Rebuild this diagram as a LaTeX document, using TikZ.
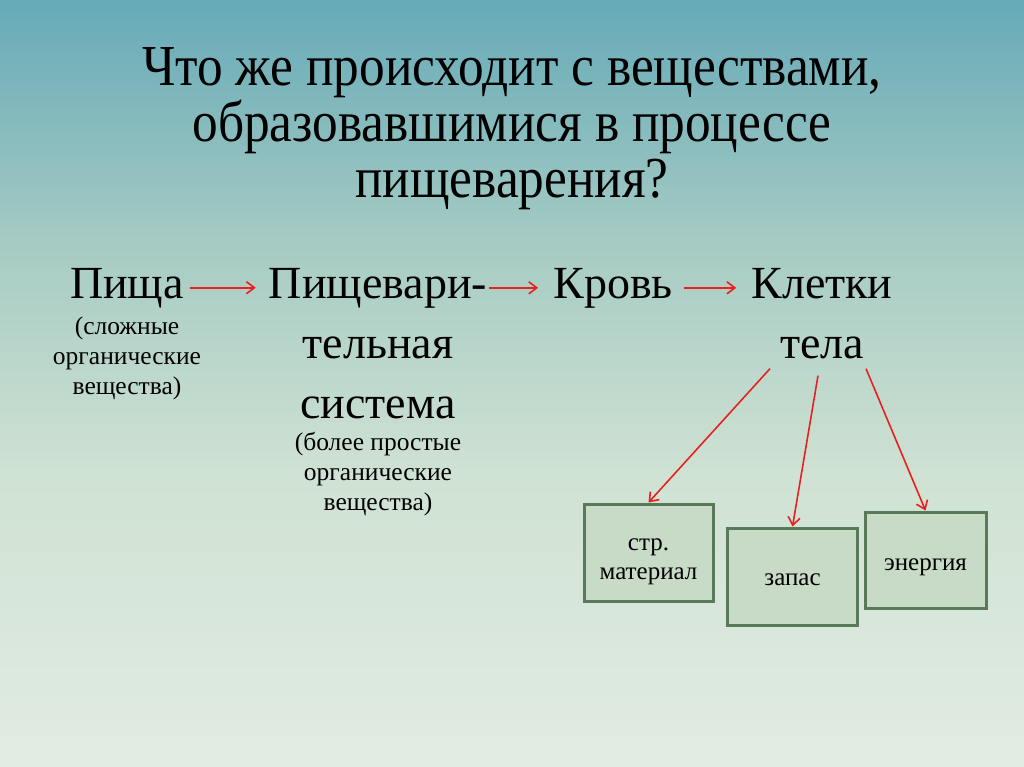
\documentclass[tikz,border=0pt]{standalone}
\usepackage{fontspec}
\setmainfont{Liberation Serif}
\newfontfamily\headfont[FakeStretch=0.885]{Liberation Serif}
\usetikzlibrary{arrows.meta,positioning}

\definecolor{bgtop}{RGB}{102,170,184}
\definecolor{bgmid}{RGB}{166,203,195}
\definecolor{bglow}{RGB}{207,226,211}
\definecolor{bgbot}{RGB}{226,236,227}
\definecolor{boxline}{RGB}{88,122,88}
\definecolor{boxfill}{RGB}{199,219,199}
\definecolor{arrowred}{RGB}{232,32,30}

\pgfdeclareverticalshading{slidebg}{100bp}{color(0bp)=(bgbot); color(25bp)=(bgbot); color(44bp)=(bglow); color(59bp)=(bgmid); color(75bp)=(bgtop); color(100bp)=(bgtop)}

\tikzset{
  big/.style={inner sep=2pt, align=center, font=\fontsize{46}{60}\selectfont},
  note/.style={inner sep=2pt, align=center, font=\fontsize{25.5}{30}\selectfont},
  outcome/.style={draw=boxline, line width=3pt, fill=boxfill, align=center,
                  font=\fontsize{25}{29}\selectfont},
  flow/.style={draw=arrowred, line width=1.6pt, -{Straight Barb[length=8pt,width=12pt]}}
}

\begin{document}
\begin{tikzpicture}[x=1pt,y=-1pt]
  % Background
  \shade[shading=slidebg] (0,0) rectangle (1024,767);
  \useasboundingbox (0,0) rectangle (1024,767);

  % base anchor = baseline of the last line
  \node (title) [anchor=base, align=center, inner sep=0pt,
                 font=\headfont\fontsize{58}{56}\selectfont] at (512,198)
        {Что же происходит с веществами,\\образовавшимися в процессе\\пищеварения?};

  \node (food)   [big, anchor=base] at (127,298) {Пища};
  \node (foodnote) [note, anchor=base] at (127,394) {(сложные\\органические\\вещества)};

  \node (digest) [big, anchor=base] at (378,418) {Пищевари-\\тельная\\система};
  \node (digestnote) [note, anchor=base] at (378,510) {(более простые\\органические\\вещества)};

  \node (blood)  [big, anchor=base] at (613,298) {Кровь};
  \node (cells)  [big, anchor=base] at (822,358) {Клетки\\тела};

  \node (build)  [outcome, minimum width=129pt, minimum height=97pt, text height=60pt] at (648.5,552.5) {стр.\\материал};
  \node (store)  [outcome, minimum width=130pt, minimum height=97pt, text height=19pt] at (792.5,576.5) {запас};
  \node (energy) [outcome, minimum width=121pt, minimum height=96pt, text height=27pt] at (925.5,560) {энергия};

  % chain
  \draw[flow, shorten <=4pt, shorten >=11pt] (food.east) -- (food.east -| digest.west);
  \draw[flow, shorten >=13pt] (blood.west -| digest.east) -- (blood.west);
  \draw[flow, shorten <=9pt, shorten >=13pt] (blood.east) -- (blood.east -| cells.west);

  % uses
  \draw[flow] ([xshift=-52pt,yshift=-8pt]cells.south) -- (build.north);
  \draw[flow] ([xshift=-4pt,yshift=-15pt]cells.south) -- (store.north);
  \draw[flow] ([xshift=44pt,yshift=-8pt]cells.south) -- (energy.north);
\end{tikzpicture}
\end{document}
